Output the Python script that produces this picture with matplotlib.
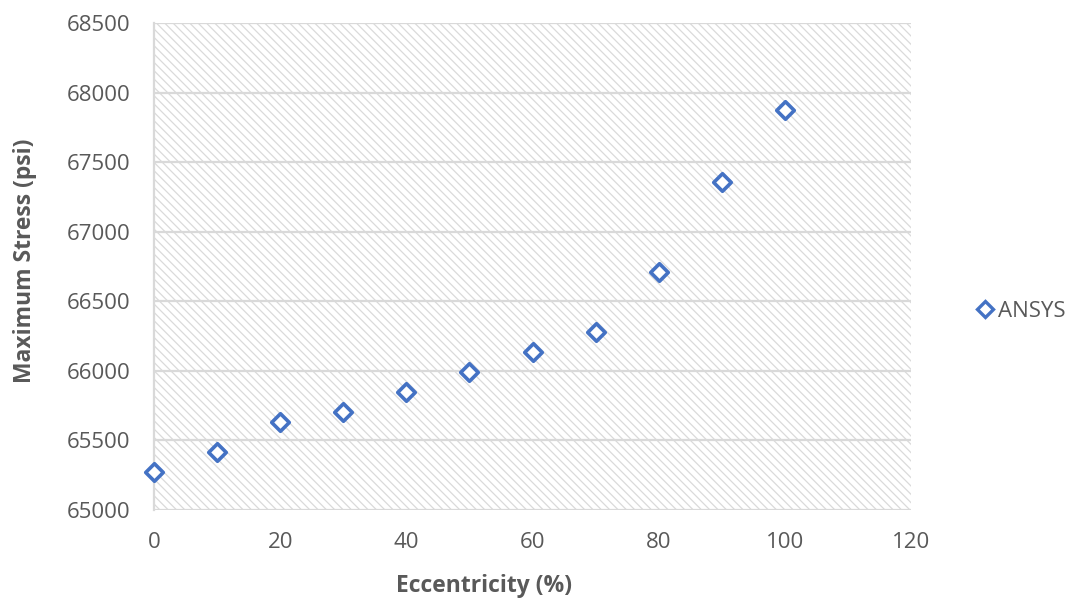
import matplotlib
matplotlib.use("Agg")
import matplotlib.pyplot as plt
from matplotlib.patches import Rectangle
from matplotlib.lines import Line2D

eccentricity = [0, 10, 20, 30, 40, 50, 60, 70, 80, 90, 100]
max_stress = [65273, 65417, 65632, 65704, 65848, 65992, 66136, 66280, 66711, 67357, 67875]
series_name = "ANSYS"
x_ticks = [0, 20, 40, 60, 80, 100, 120]
y_ticks = [65000, 65500, 66000, 66500, 67000, 67500, 68000, 68500]

plt.rcParams["font.family"] = ["Open Sans", "DejaVu Sans"]
plt.rcParams["hatch.linewidth"] = 0.9

text_gray = "#595959"
grid_gray = "#d9d9d9"
blue = "#4472C4"

W, H = 1086, 602
fig = plt.figure(figsize=(W / 100, H / 100), dpi=100)
ax = fig.add_axes([0.1418, 0.1528, 0.6971, 0.809])

# hatched plot-area background
ax.add_patch(Rectangle((0, 0), 1, 1, transform=ax.transAxes, facecolor="white",
                       edgecolor="#dadada", linewidth=0, hatch="\\\\\\\\", zorder=0))

ax.scatter(eccentricity, max_stress, marker="D", s=80, facecolor="white",
           edgecolor=blue, linewidth=2.6, zorder=3, clip_on=False)

ax.set_xlim(0, 120)
ax.set_ylim(65000, 68500)
ax.set_xticks(x_ticks)
ax.set_yticks(y_ticks)
ax.set_axisbelow(True)
ax.grid(axis="y", color=grid_gray, linewidth=1.6, zorder=1)
for side in ["top", "right", "bottom"]:
    ax.spines[side].set_visible(False)
ax.spines["left"].set_color(grid_gray)
ax.spines["left"].set_linewidth(1.6)
ax.tick_params(axis="both", length=0, labelsize=16, labelcolor=text_gray)
ax.tick_params(axis="y", pad=17)
ax.tick_params(axis="x", pad=16)

fig.text(484 / W, 1 - 586 / H, "Eccentricity (%)", fontsize=16.5, fontweight="bold",
         color=text_gray, ha="center", va="center")
fig.text(25 / W, 1 - 261 / H, "Maximum Stress (psi)", fontsize=16.5, fontweight="bold",
         color=text_gray, ha="center", va="center", rotation=90)

handle = Line2D([], [], marker="D", linestyle="none", markersize=8, markerfacecolor="white",
                markeredgecolor=blue, markeredgewidth=2.4)
fig.legend([handle], [series_name], loc="center left", bbox_to_anchor=(0.878, 0.483),
           frameon=False, fontsize=16, labelcolor=text_gray, handletextpad=0.1,
           handlelength=1.0)

fig.savefig("out.png", dpi=100)
